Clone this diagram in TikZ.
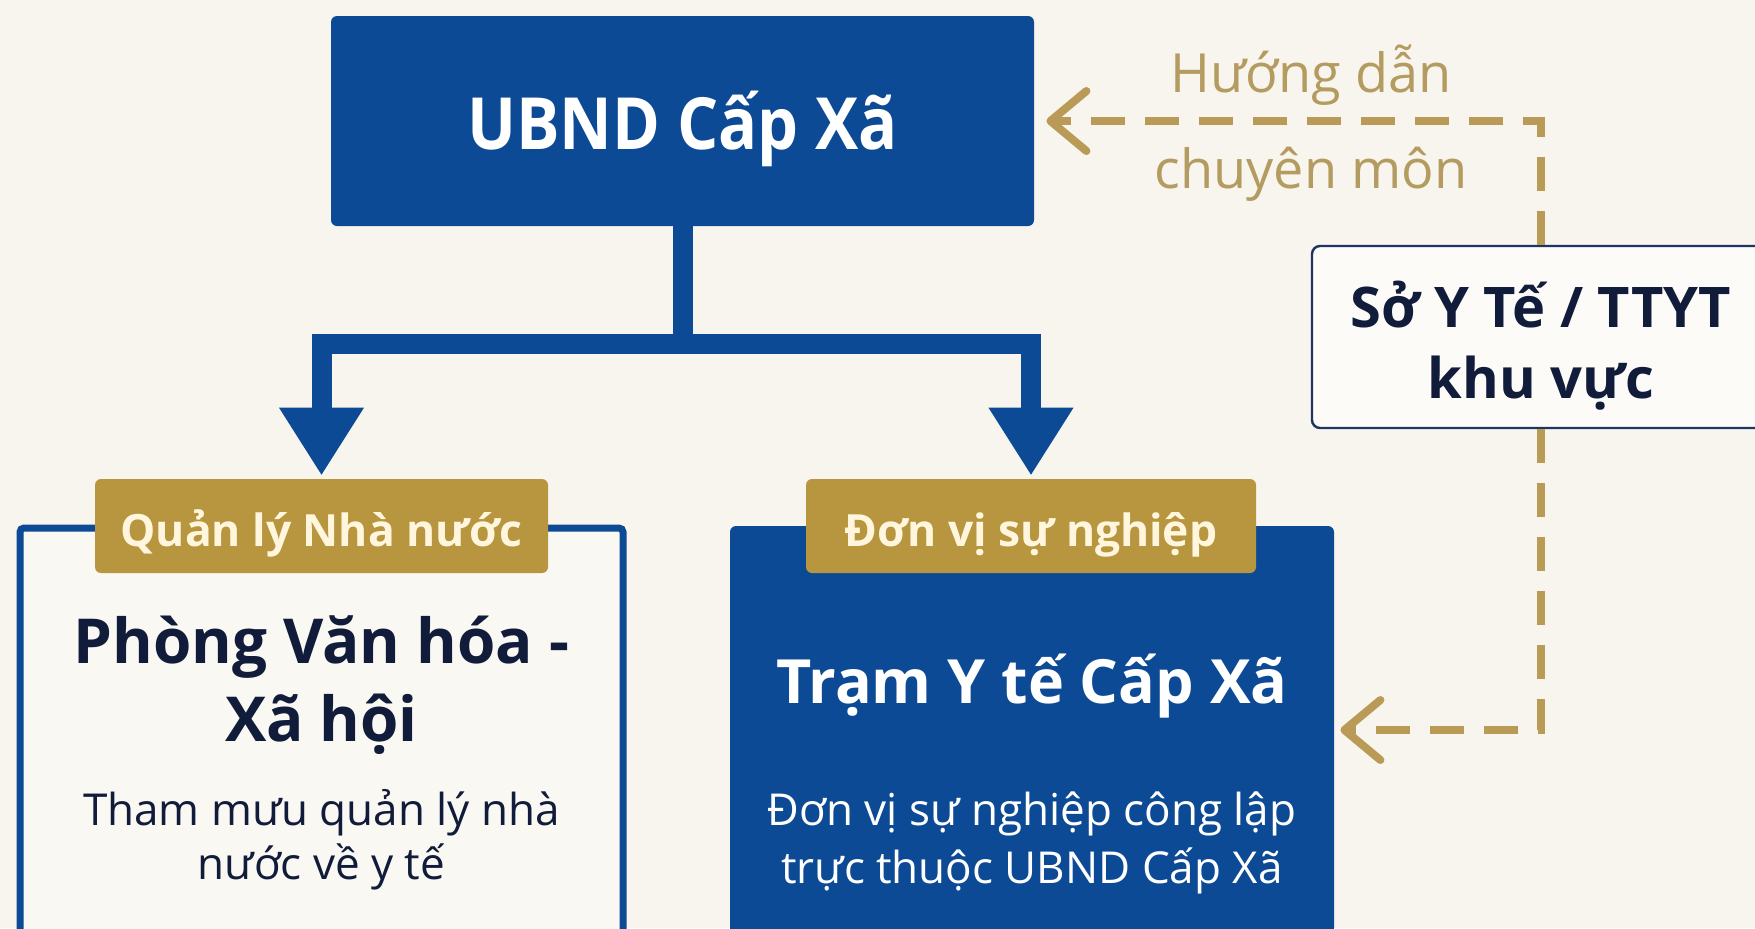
\documentclass[tikz,border=0pt]{standalone}
\usepackage{fontspec}
\setmainfont{Open Sans}
\newfontfamily\condbold{Open Sans}[FakeStretch=0.9]
\usetikzlibrary{arrows.meta}
\definecolor{bg}{HTML}{F8F5EE}
\definecolor{navy}{HTML}{0D4A95}
\definecolor{gold}{HTML}{B8963F}
\definecolor{goldline}{HTML}{B99A57}
\definecolor{goldtext}{HTML}{B49B60}
\definecolor{ink}{HTML}{111B3A}
\definecolor{cream}{HTML}{FFF6DD}
\definecolor{boxline}{HTML}{1E3463}
\begin{document}
\begin{tikzpicture}[x=0.5pt,y=-0.5pt,
  bluebox/.style={fill=navy, rounded corners=3pt, inner sep=0pt},
  outbox/.style={draw=navy, line width=3.5pt, fill=bg!70!white, rounded corners=2pt, inner sep=0pt},
  tagbox/.style={fill=gold, rounded corners=3pt, inner sep=0pt, minimum height=47pt},
  sobox/.style={draw=boxline, line width=1.2pt, fill=bg!40!white, rounded corners=4pt, inner sep=0pt},
  tree/.style={draw=navy, line width=10pt, line join=miter},
  treetips/.style={{Triangle[width=40pt,length=34pt]}-{Triangle[width=40pt,length=34pt]}},
  dashline/.style={draw=goldline, line width=4pt, dash pattern=on 17pt off 10pt,
    -{Straight Barb[length=18pt,width=30pt,round]}},
  whitetitle/.style={anchor=base, text=white, font=\bfseries\fontsize{30.5}{37}\selectfont},
  inktitle/.style={anchor=base, text=ink, font=\bfseries\fontsize{31}{37}\selectfont},
  tagtext/.style={anchor=base, text=cream, font=\bfseries\fontsize{22.2}{26}\selectfont},
  sotext/.style={anchor=base, text=ink, font=\bfseries\fontsize{28}{34}\selectfont},
  desc/.style={anchor=base, font=\fontsize{22}{26}\selectfont},
  guide/.style={anchor=base, text=goldtext, font=\fontsize{27}{32}\selectfont}]
\path[use as bounding box, fill=bg] (0,0) rectangle (1755,928);
\clip (0,0) rectangle (1755,928);

% top box
\node[bluebox, minimum width=351.5pt, minimum height=105pt] (ubnd) at (682.5,121) {};
\node[anchor=base, text=white, font=\condbold\bfseries\fontsize{36}{42}\selectfont] (ubndt) at (682.5,149) {UBND Cấp Xã};

% lower boxes
\node[outbox, minimum width=301.5pt, minimum height=203pt] (phong) at (321.5,731) {};
\node[bluebox, minimum width=302pt, minimum height=204pt] (tram) at (1032,730) {};

% tags
\node[tagbox, minimum width=226.5pt] (tagL) at (321.5,526) {};
\node[tagbox, minimum width=225pt] (tagR) at (1031,526) {};
\node[tagtext] (tagLt) at (321.5,546) {Quản lý Nhà nước};
\node[tagtext] (tagRt) at (1031,546) {Đơn vị sự nghiệp};

% texts in left box
\node[inktitle] (ph1) at (321.5,663) {Phòng Văn hóa -};
\node[inktitle] (ph2) at (321.5,741) {Xã hội};
\node[desc, text=ink] (pd1) at (321.5,825) {Tham mưu quản lý nhà};
\node[desc, text=ink] (pd2) at (321.5,879) {nước về y tế};

% texts in right box
\node[whitetitle] (tr1) at (1032,703) {Trạm Y tế Cấp Xã};
\node[desc, text=white] (td1) at (1032,825) {Đơn vị sự nghiệp công lập};
\node[desc, text=white] (td2) at (1032,883) {trực thuộc UBND Cấp Xã};

% So Y te box
\node[sobox, minimum width=229pt, minimum height=91pt] (so) at (1541,337) {};
\node[sotext] (so1) at (1541,327) {Sở Y Tế / TTYT};
\node[sotext] (so2) at (1541,398) {khu vực};

% tree connector
\coordinate (jn) at (682.5,344);
\draw[tree] (ubnd.south) -- (jn);
\draw[tree, treetips, shorten <=1.5pt, shorten >=1.5pt] (tagL.north) |- (jn) -| (tagR.north);

% dashed guidance connectors
\draw[dashline, shorten >=6pt] (so.north) |- (ubnd.east);
\draw[dashline, shorten >=3pt] (so.south) |- (tram.east);

\node[guide] (g1) at (1311,92) {Hướng dẫn};
\node[guide] (g2) at (1311,188) {chuyên môn};
\end{tikzpicture}
\end{document}
